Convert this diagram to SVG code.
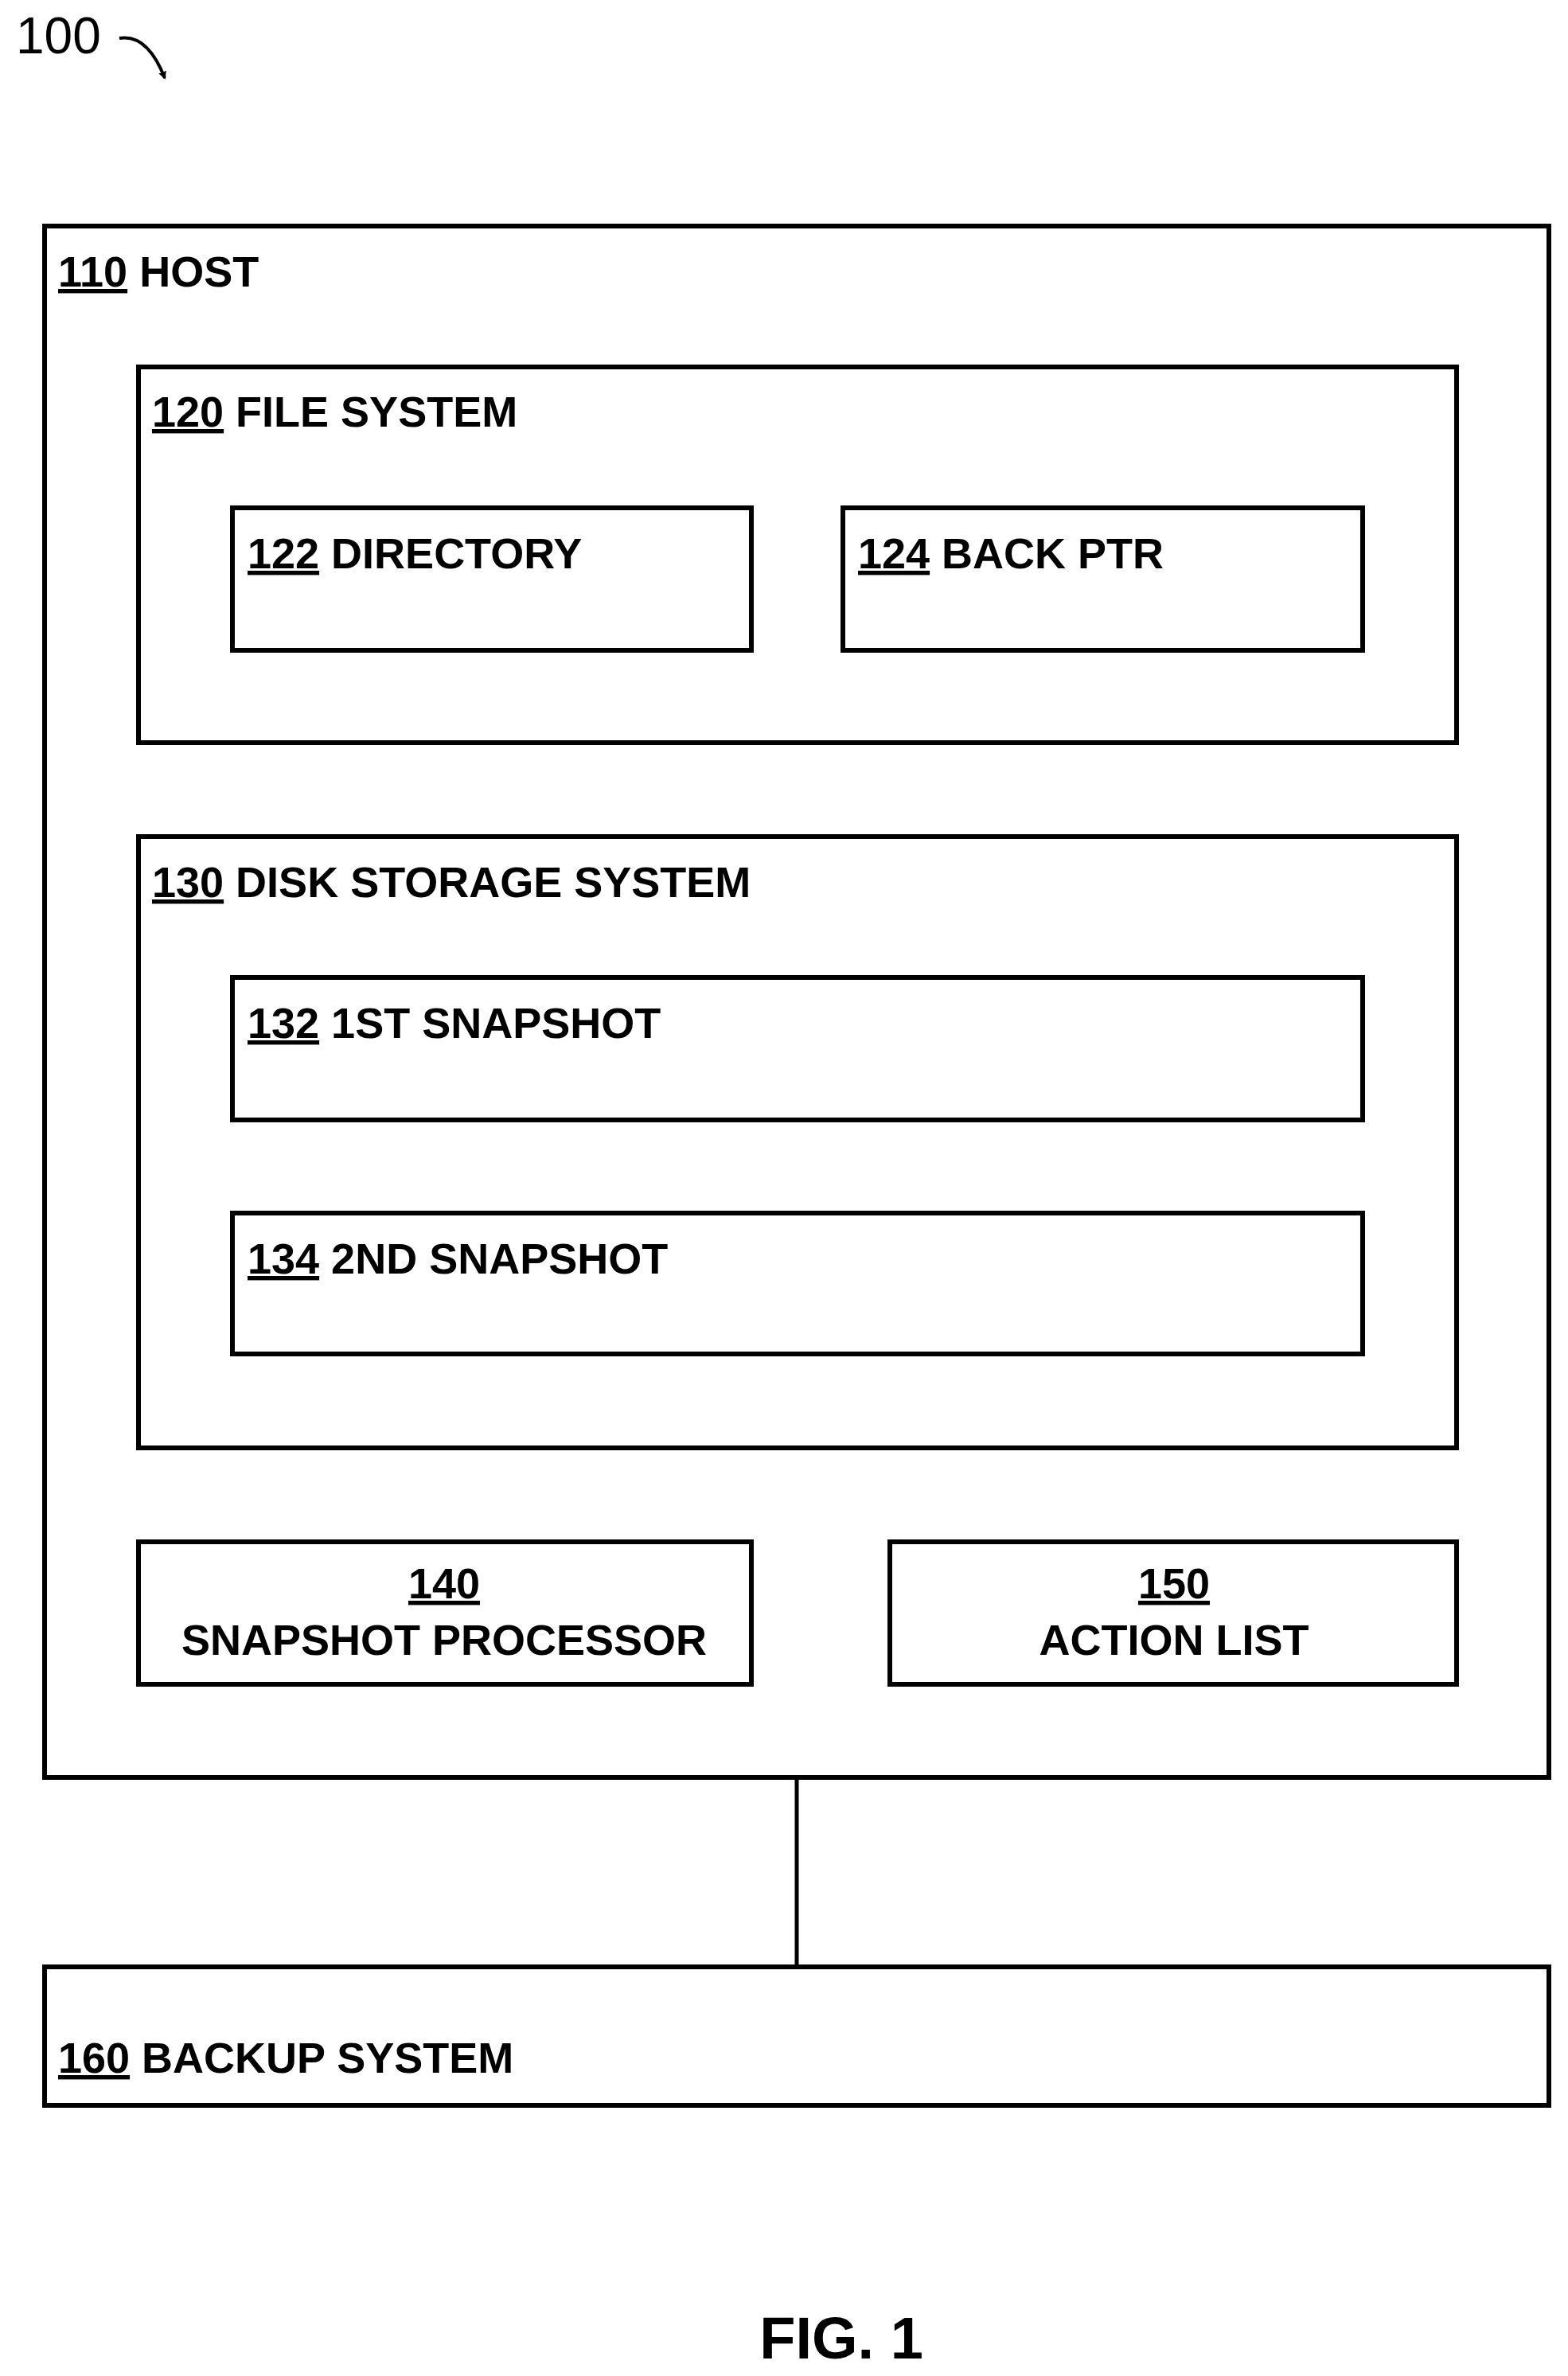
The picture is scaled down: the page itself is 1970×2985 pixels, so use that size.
<svg xmlns="http://www.w3.org/2000/svg" width="1970" height="2985" viewBox="0 0 1970 2985">
<style>
rect{fill:none;stroke:#000;stroke-width:6}
text{font-family:"Liberation Sans",Arial,sans-serif;font-weight:bold;font-size:54px;fill:#000}
.u{text-decoration:underline}
.c{text-anchor:middle}
</style>
<defs><marker id="ah" markerWidth="10" markerHeight="10" refX="8" refY="5" orient="auto" markerUnits="userSpaceOnUse" viewBox="0 0 10 10"><path d="M0,0 L10,5 L0,10 z" fill="#000"/></marker></defs>
<rect x="0" y="0" width="1970" height="2985" style="fill:#fff;stroke:none"/>
<g id="label100"><text x="20" y="67" style="font-weight:normal;font-size:64px">100</text>
<path d="M150,48 Q185,42 207,98" fill="none" stroke="#000" stroke-width="4" marker-end="url(#ah)"/></g>
<g id="connectors"><line x1="1001" y1="2233" x2="1001" y2="2471" stroke="#000" stroke-width="5"/></g>
<g id="n110"><rect x="56" y="284" width="1890" height="1949"/><text x="73" y="360"><tspan class="u">110</tspan> HOST</text></g>
<g id="n120"><rect x="174" y="461" width="1656" height="472"/><text x="191" y="536"><tspan class="u">120</tspan> FILE SYSTEM</text></g>
<g id="n122"><rect x="292" y="638" width="652" height="179"/><text x="311" y="714"><tspan class="u">122</tspan> DIRECTORY</text></g>
<g id="n124"><rect x="1059" y="638" width="653" height="179"/><text x="1078" y="714"><tspan class="u">124</tspan> BACK PTR</text></g>
<g id="n130"><rect x="174" y="1051" width="1656" height="768"/><text x="191" y="1127"><tspan class="u">130</tspan> DISK STORAGE SYSTEM</text></g>
<g id="n132"><rect x="292" y="1228" width="1420" height="179"/><text x="311" y="1304"><tspan class="u">132</tspan> 1ST SNAPSHOT</text></g>
<g id="n134"><rect x="292" y="1524" width="1420" height="177"/><text x="311" y="1600"><tspan class="u">134</tspan> 2ND SNAPSHOT</text></g>
<g id="n140"><rect x="174" y="1937" width="770" height="179"/><text class="c" x="558" y="2008"><tspan class="u">140</tspan></text><text class="c" x="558" y="2079">SNAPSHOT PROCESSOR</text></g>
<g id="n150"><rect x="1118" y="1937" width="712" height="179"/><text class="c" x="1475" y="2008"><tspan class="u">150</tspan></text><text class="c" x="1475" y="2079">ACTION LIST</text></g>
<g id="n160"><rect x="56" y="2471" width="1890" height="174"/><text x="73" y="2604"><tspan class="u">160</tspan> BACKUP SYSTEM</text></g>
<text class="c" x="1057" y="2963" style="font-size:74px">FIG. 1</text>
</svg>
